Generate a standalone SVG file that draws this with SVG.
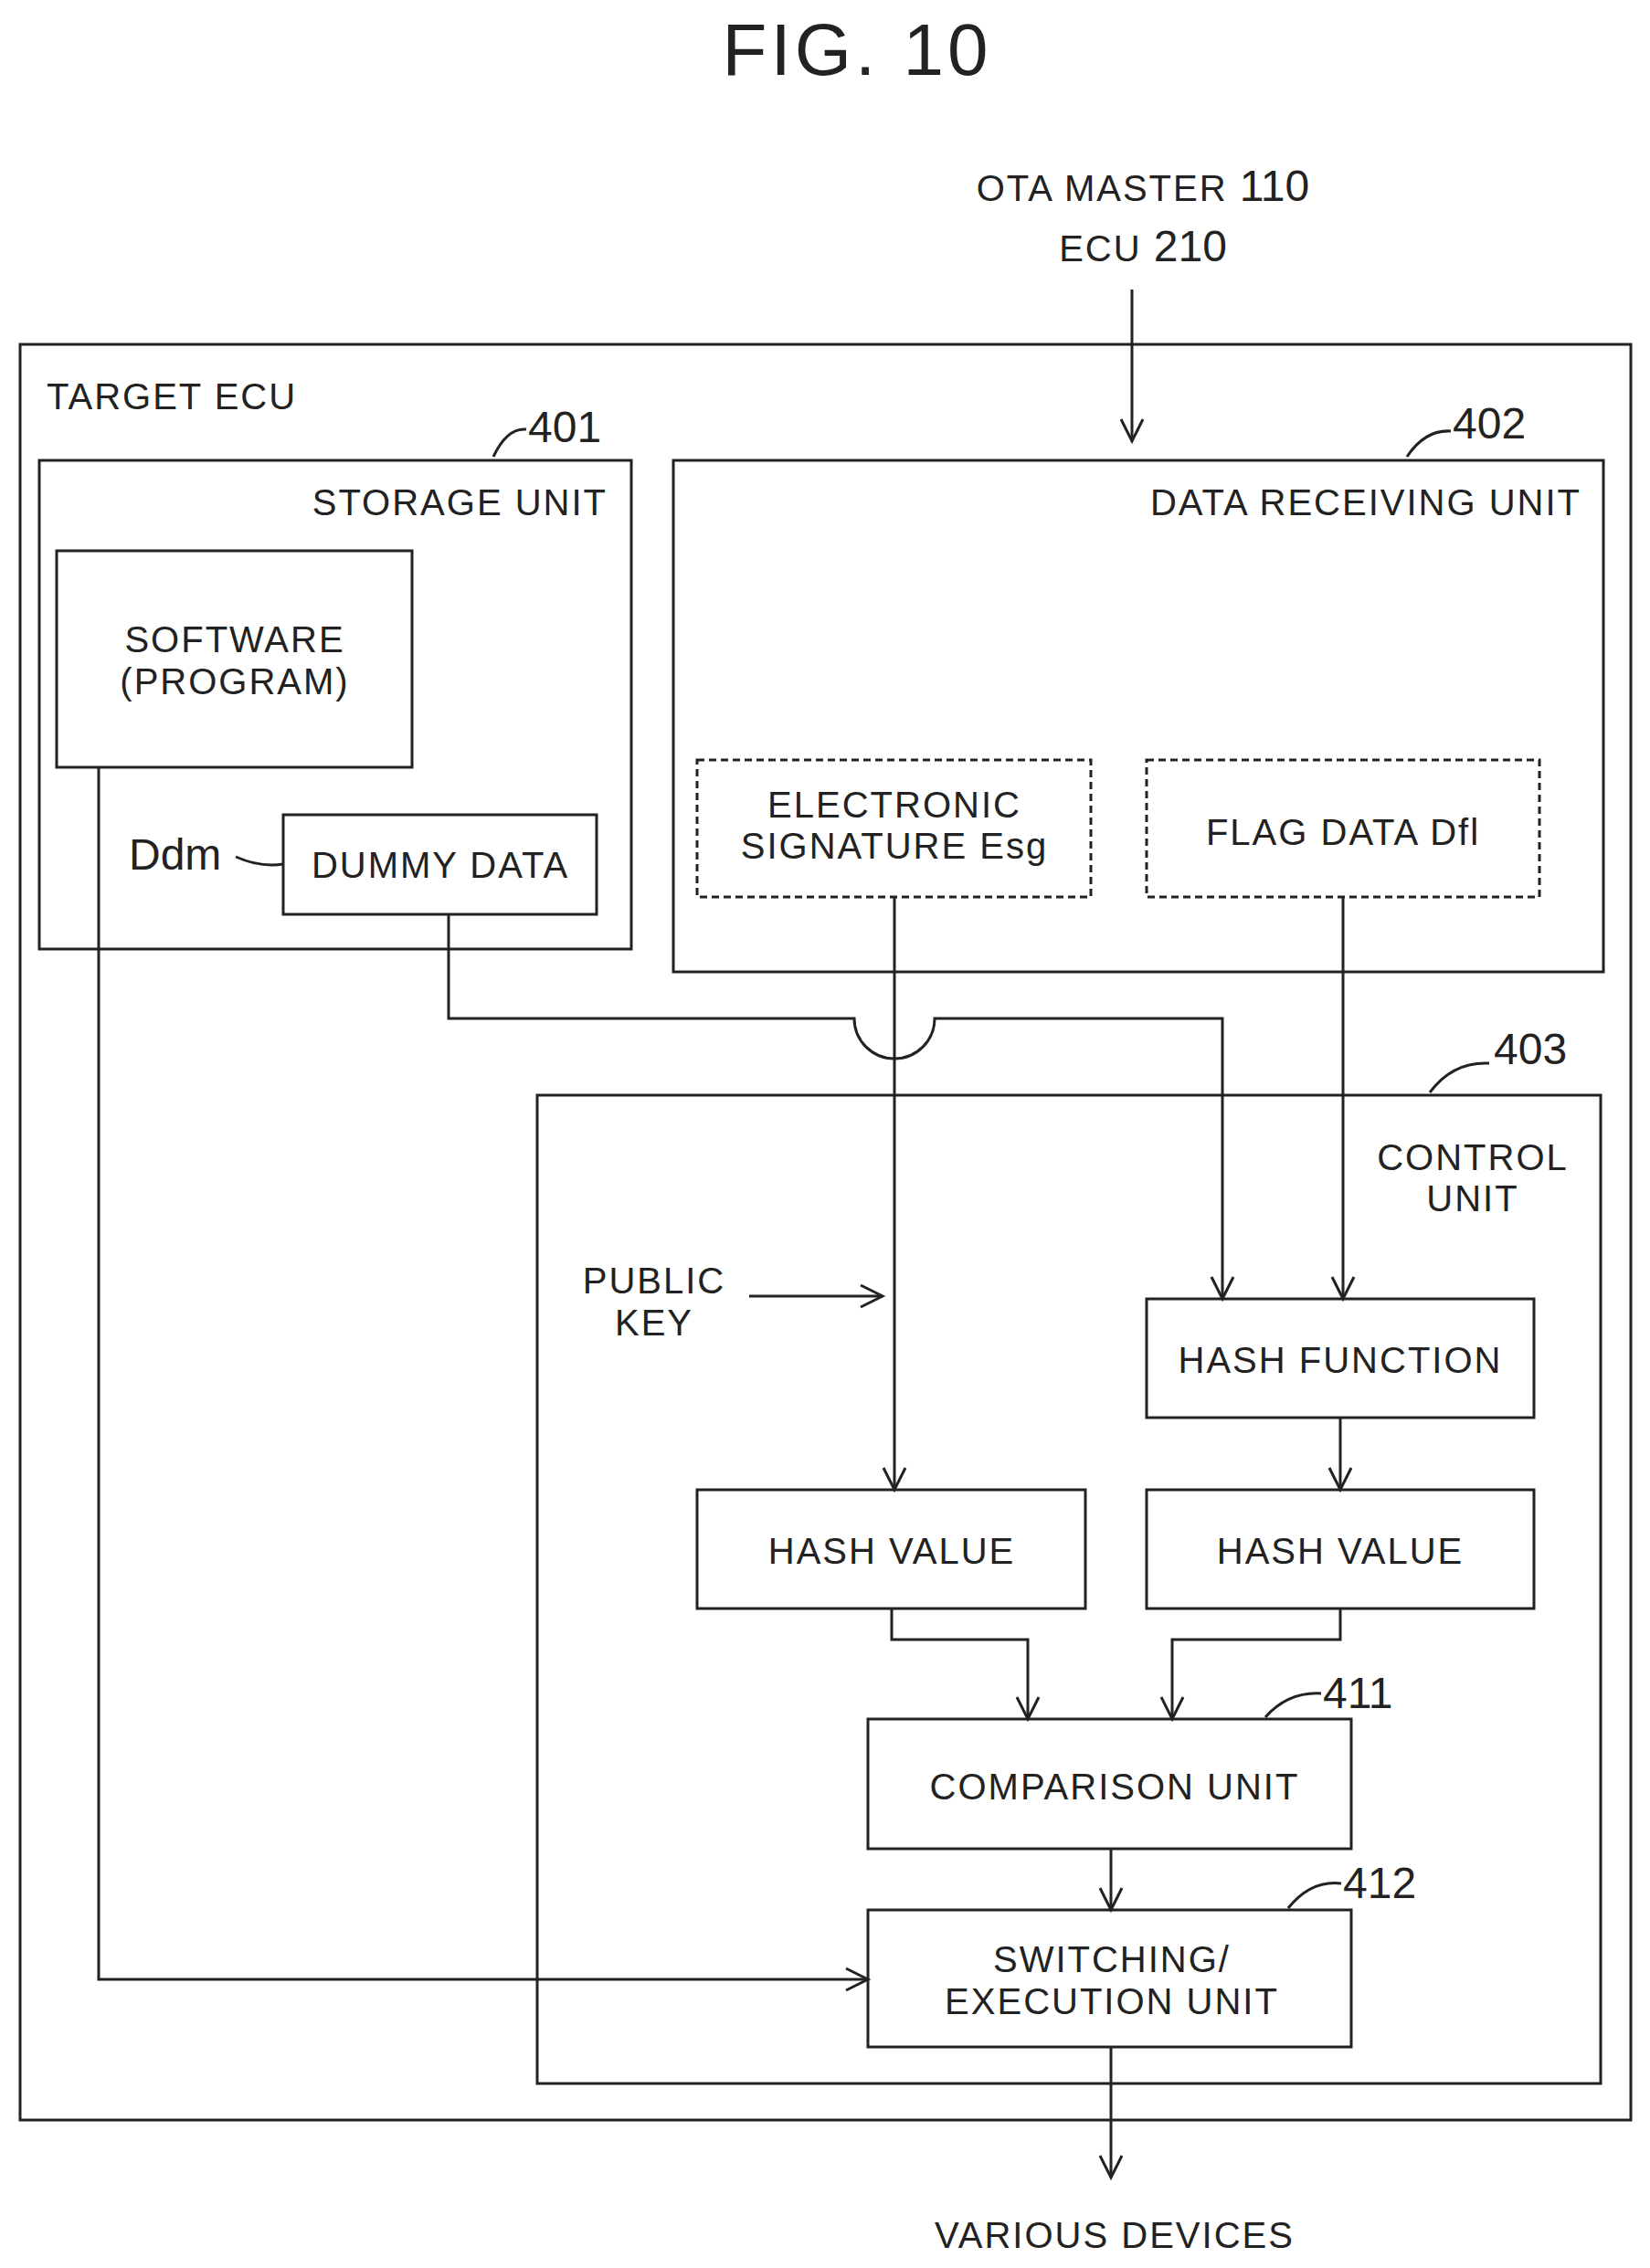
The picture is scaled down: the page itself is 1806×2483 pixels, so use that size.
<svg xmlns="http://www.w3.org/2000/svg" width="1806" height="2483" viewBox="0 0 1806 2483">
<style>
.b{fill:none;stroke:#222;stroke-width:3}
.d{fill:none;stroke:#222;stroke-width:3;stroke-dasharray:8,5}
.l{fill:none;stroke:#222;stroke-width:3}
text{font-family:"Liberation Sans",Arial,sans-serif;font-size:40px;fill:#222;letter-spacing:2px}
.n{font-size:48px;letter-spacing:0}
.m{text-anchor:middle}
.e{text-anchor:end}
</style>
<defs><marker id="A" markerWidth="30" markerHeight="30" refX="26" refY="15" orient="auto" markerUnits="userSpaceOnUse"><path d="M2,3 L26,15 L2,27" fill="none" stroke="#222" stroke-width="3"/></marker></defs>
<rect width="1806" height="2483" fill="#fff"/>
<text x="938" y="82" class="m" style="font-size:80px;letter-spacing:4px">FIG. 10</text>
<text x="1251" y="220" class="m">OTA MASTER <tspan class="n">110</tspan></text>
<text x="1251" y="286" class="m">ECU <tspan class="n">210</tspan></text>
<g id="target"><rect x="22" y="377" width="1763" height="1944" class="b"/><text x="51" y="448">TARGET ECU</text></g>
<g id="storage"><rect x="43" y="504" width="648" height="535" class="b"/><text x="665" y="564" class="e">STORAGE UNIT</text><text x="578" y="484" class="n">401</text><path d="M540,500 Q555,468 576,470" class="l"/></g>
<g id="software"><rect x="62" y="603" width="389" height="237" class="b"/><text x="257" y="714" class="m">SOFTWARE</text><text x="257" y="760" class="m">(PROGRAM)</text></g>
<g id="dummy"><rect x="310" y="892" width="343" height="109" class="b"/><text x="482" y="961" class="m">DUMMY DATA</text><text x="141" y="952" class="n">Ddm</text><path d="M258,938 Q285,950 310,946" class="l"/></g>
<g id="receiving"><rect x="737" y="504" width="1018" height="560" class="b"/><text x="1731" y="564" class="e">DATA RECEIVING UNIT</text><text x="1590" y="480" class="n">402</text><path d="M1540,500 Q1560,470 1588,472" class="l"/></g>
<g id="esg"><rect x="763" y="832" width="431" height="150" class="d"/><text x="979" y="895" class="m">ELECTRONIC</text><text x="979" y="940" class="m">SIGNATURE Esg</text></g>
<g id="flag"><rect x="1255" y="832" width="430" height="150" class="d"/><text x="1470" y="925" class="m">FLAG DATA Dfl</text></g>
<g id="control"><rect x="588" y="1199" width="1164" height="1082" class="b"/><text x="1612" y="1281" class="m">CONTROL</text><text x="1612" y="1326" class="m">UNIT</text><text x="1635" y="1165" class="n">403</text><path d="M1565,1196 Q1590,1162 1630,1164" class="l"/></g>
<g id="pubkey"><text x="716" y="1416" class="m">PUBLIC</text><text x="716" y="1462" class="m">KEY</text></g>
<g id="hashfn"><rect x="1255" y="1422" width="424" height="130" class="b"/><text x="1467" y="1503" class="m">HASH FUNCTION</text></g>
<g id="hv1"><rect x="763" y="1631" width="425" height="130" class="b"/><text x="976" y="1712" class="m">HASH VALUE</text></g>
<g id="hv2"><rect x="1255" y="1631" width="424" height="130" class="b"/><text x="1467" y="1712" class="m">HASH VALUE</text></g>
<g id="cmp"><rect x="950" y="1882" width="529" height="142" class="b"/><text x="1220" y="1970" class="m">COMPARISON UNIT</text><text x="1448" y="1870" class="n">411</text><path d="M1385,1880 Q1410,1852 1446,1854" class="l"/></g>
<g id="sw"><rect x="950" y="2091" width="529" height="150" class="b"/><text x="1217" y="2159" class="m">SWITCHING/</text><text x="1217" y="2205" class="m">EXECUTION UNIT</text><text x="1470" y="2078" class="n">412</text><path d="M1410,2089 Q1435,2058 1468,2062" class="l"/></g>
<text x="1220" y="2461" class="m">VARIOUS DEVICES</text>
<g id="connectors">
<path d="M1239,317 V483" class="l" marker-end="url(#A)"/>
<path d="M820,1419 H966" class="l" marker-end="url(#A)"/>
<path d="M979,982 V1631" class="l" marker-end="url(#A)"/>
<path d="M1470,982 V1422" class="l" marker-end="url(#A)"/>
<path d="M491,1001 V1115 H935 A44,44 0 0 0 1023,1115 H1338 V1422" class="l" marker-end="url(#A)"/>
<path d="M1467,1552 V1631" class="l" marker-end="url(#A)"/>
<path d="M976,1761 V1795 H1125 V1882" class="l" marker-end="url(#A)"/>
<path d="M1467,1761 V1795 H1283 V1882" class="l" marker-end="url(#A)"/>
<path d="M1216,2024 V2091" class="l" marker-end="url(#A)"/>
<path d="M108,840 V2167 H950" class="l" marker-end="url(#A)"/>
<path d="M1216,2241 V2384" class="l" marker-end="url(#A)"/>
</g>
</svg>
